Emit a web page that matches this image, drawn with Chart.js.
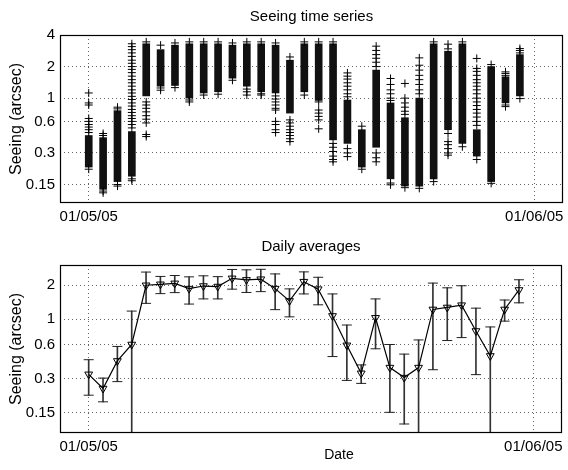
<!DOCTYPE html>
<html>
<head>
<meta charset="utf-8">
<script src="https://cdn.jsdelivr.net/npm/chart.js@4/dist/chart.umd.min.js"></script>
<style>
	html, body { margin: 0; padding: 0; background: #fff; }
	canvas { position: absolute; left: 0; }
	#series { top: 0; }
	#daily { top: 230px; }
</style>
</head>
<body>
<canvas id="series" width="568" height="230"></canvas>
<canvas id="daily" width="568" height="240"></canvas>
<script>
// nights, counted in days from 01/05/05
var nightDay = [ 0, 1, 2, 3, 4, 5, 6, 7, 8, 9, 10, 11, 12, 13, 14, 15, 16, 17, 18, 19, 20, 21, 22, 23, 24, 25, 26, 27, 28, 29, 30 ];

// dense part of each night's measurements (arcsec)
var coreLow  = [ 0.22, 0.135, 0.16, 0.18, 1.05, 1.3, 1.32, 1.0, 1.12, 1.15, 1.55, 1.3, 1.15, 1.12, 0.72, 1.15, 0.95, 0.4, 0.37, 0.22, 0.34, 0.17, 0.145, 0.145, 0.17, 0.5, 0.37, 0.28, 0.16, 0.9, 1.05 ];
var coreHigh = [ 0.44, 0.42, 0.76, 0.48, 3.3, 2.9, 3.2, 3.3, 3.3, 3.3, 3.2, 3.3, 3.3, 3.2, 2.3, 3.3, 3.3, 3.3, 0.96, 0.5, 1.85, 0.9, 0.65, 1.0, 3.3, 2.8, 3.3, 0.5, 2.0, 1.6, 2.6 ];

// sparser measurements around the dense part
var sparseSeeing = [
	[ 0.21, 0.47, 0.5, 0.53, 0.56, 0.6, 0.64, 0.86, 0.9, 1.12 ],
	[ 0.125, 0.13, 0.44, 0.46 ],
	[ 0.145, 0.15, 0.79, 0.82 ],
	[ 0.163, 0.17, 0.52, 0.56, 0.6, 0.64, 0.68, 0.73, 0.78, 0.84, 0.9, 0.97, 1.04, 1.12, 1.2, 1.3, 1.4, 1.5, 1.62, 1.75, 1.88, 2.0, 2.15, 2.3, 2.5, 2.7, 2.9, 3.1, 3.3 ],
	[ 3.44, 0.92, 0.86, 0.8, 0.74, 0.68, 0.63, 0.58, 0.45, 0.43 ],
	[ 1.19, 1.25, 3.2 ],
	[ 1.26, 3.36 ],
	[ 0.92, 0.96, 3.44 ],
	[ 1.07, 3.44 ],
	[ 1.09, 3.44 ],
	[ 1.48, 3.36 ],
	[ 1.07, 1.15, 1.22, 3.44 ],
	[ 1.07, 1.1, 3.44 ],
	[ 1.05, 0.98, 0.92, 0.86, 0.8, 0.77, 0.6, 0.56, 0.5, 0.47, 3.36 ],
	[ 2.47, 0.62, 0.58, 0.54, 0.5, 0.47, 0.44, 0.41, 0.385 ],
	[ 1.07, 3.44 ],
	[ 0.92, 0.77, 0.72, 0.67, 0.62, 0.51, 3.44 ],
	[ 0.37, 0.34, 0.31, 0.28, 0.26, 0.247, 3.44 ],
	[ 1.03, 1.1, 1.2, 1.3, 1.4, 1.52, 1.62, 1.74, 0.33, 0.3, 0.277 ],
	[ 0.21, 0.54 ],
	[ 2.0, 2.2, 2.4, 2.6, 2.85, 3.13, 0.3, 0.27, 0.247 ],
	[ 0.149, 0.155, 0.95, 1.0, 1.1, 1.2, 1.35, 1.54 ],
	[ 0.14, 0.7, 0.75, 0.82, 0.9, 1.0, 1.38 ],
	[ 0.138, 1.1, 1.2, 1.35, 1.5, 1.65, 1.85, 2.06, 2.42 ],
	[ 0.16, 3.44 ],
	[ 2.95, 3.27, 0.46, 0.385, 0.36, 0.33, 0.3, 0.286 ],
	[ 0.344, 3.44 ],
	[ 2.39, 1.92, 1.8, 1.65, 1.5, 1.4, 1.3, 1.2, 1.1, 1.0, 0.92, 0.85, 0.78, 0.72, 0.66, 0.6, 0.55, 0.26 ],
	[ 0.154, 2.09 ],
	[ 0.83, 0.86, 1.65, 1.72, 1.78 ],
	[ 0.99, 2.7, 2.85, 2.97 ]
];

// daily averages and their spread
var dailyMean = [ 0.328, 0.246, 0.43, 0.6, 1.99, 2.03, 2.07, 1.86, 1.96, 1.94, 2.29, 2.22, 2.25, 1.86, 1.45, 2.14, 1.84, 1.07, 0.59, 0.335, 1.03, 0.376, 0.307, 0.376, 1.22, 1.27, 1.33, 0.789, 0.476, 1.22, 1.81 ];
var dailyStd  = [ 0.113, 0.058, 0.147, 0.58, 0.61, 0.35, 0.355, 0.5, 0.45, 0.43, 0.45, 0.5, 0.5, 0.645, 0.4, 0.47, 0.5, 0.6, 0.3, 0.062, 0.48, 0.224, 0.187, 0.282, 0.86, 0.62, 0.64, 0.463, 0.38, 0.257, 0.415 ];

var seriesTicks = [ 0.15, 0.3, 0.6, 1, 2, 4 ];
var dailyTicks = [ 0.15, 0.3, 0.6, 1, 2 ];
var dateTickDays = [ 0, 31 ];
var dateTickLabels = [ '01/05/05', '01/06/05' ];

Chart.defaults.font.family = '"Liberation Sans", Arial, Helvetica, sans-serif';
Chart.defaults.color = '#000';

var boxPlugin = {
	id: 'box',
	afterDraw: function ( chart ) {
		var a = chart.chartArea, ctx = chart.ctx;
		ctx.save();
		ctx.strokeStyle = '#000';
		ctx.lineWidth = 1.2;
		ctx.strokeRect( Math.round( a.left ) + 0.5, Math.round( a.top ) + 0.5, Math.round( a.right - a.left ) - 1, Math.round( a.bottom - a.top ) - 1 );
		ctx.restore();
	}
};

// the "Date" label sits a little right of centre in the original
var dateLabelPlugin = {
	id: 'dateLabel',
	afterDraw: function ( chart ) {
		var a = chart.chartArea, ctx = chart.ctx;
		ctx.save();
		ctx.fillStyle = '#000';
		ctx.font = '14px "Liberation Sans", Arial, sans-serif';
		ctx.textAlign = 'center';
		ctx.textBaseline = 'middle';
		ctx.fillText( 'Date', ( a.left + a.right ) / 2 + 28, chart.height - 15 );
		ctx.restore();
	}
};

function xScale( axisHeight ) {
	return {
		type: 'linear',
		min: -2,
		max: 33,
		offset: false,
		afterBuildTicks: function ( scale ) {
			scale.ticks = dateTickDays.map( function ( d ) { return { value: d }; } );
		},
		afterFit: function ( scale ) {
			scale.height = axisHeight;
			scale.paddingLeft = 0;
			scale.paddingRight = 0;
		},
		ticks: {
			padding: 5,
			maxRotation: 0,
			font: { size: 15 },
			callback: function ( value ) {
				var i = dateTickDays.indexOf( value );
				return i < 0 ? '' : dateTickLabels[ i ];
			}
		},
		grid: { color: '#666', lineWidth: 1, drawTicks: false, offset: false },
		border: { display: false, dash: [ 1, 3 ] }
	};
}

// top axis only carries the panel title, centred over the plot
function titleScale( text ) {
	return {
		type: 'linear',
		position: 'top',
		min: -2,
		max: 33,
		afterFit: function ( scale ) {
			scale.height = 35;
			scale.paddingLeft = 0;
			scale.paddingRight = 0;
		},
		ticks: { display: false },
		grid: { display: false, drawTicks: false },
		border: { display: false },
		title: { display: true, text: text, font: { size: 15 }, padding: { top: 8, bottom: 0 } }
	};
}

function yScale( max, tickValues ) {
	return {
		type: 'logarithmic',
		min: 0.1,
		max: max,
		afterBuildTicks: function ( scale ) {
			scale.ticks = tickValues.map( function ( v ) { return { value: v }; } );
		},
		afterFit: function ( scale ) { scale.width = 60; },
		ticks: {
			padding: 5,
			font: { size: 15 },
			callback: function ( value ) { return String( value ); }
		},
		grid: { color: '#666', lineWidth: 1, drawTicks: false },
		border: { display: false, dash: [ 1, 3 ] },
		title: { display: true, text: 'Seeing (arcsec)', font: { size: 16 }, padding: { top: 7, bottom: 0 } }
	};
}

// top panel: every measurement
var coreData = nightDay.map( function ( d, i ) { return { x: d, y: [ coreLow[ i ], coreHigh[ i ] ] }; } );
var sparseData = [];
nightDay.forEach( function ( d, i ) {
	sparseSeeing[ i ].forEach( function ( v ) { sparseData.push( { x: d, y: v } ); } );
} );

new Chart( document.getElementById( 'series' ), {
	type: 'bar',
	data: {
		datasets: [ {
			type: 'bar',
			data: coreData,
			backgroundColor: '#111',
			borderWidth: 0,
			barThickness: 7,
			order: 2
		}, {
			type: 'scatter',
			data: sparseData,
			pointStyle: 'cross',
			pointRadius: 4,
			borderColor: '#000',
			borderWidth: 1,
			order: 1
		} ]
	},
	options: {
		responsive: false,
		animation: false,
		events: [],
		layout: { padding: 0 },
		plugins: { legend: { display: false }, tooltip: { enabled: false }, title: { display: false } },
		scales: {
			x: xScale( 27 ),
			top: titleScale( 'Seeing time series' ),
			y: yScale( 4, seriesTicks )
		}
	},
	plugins: [ boxPlugin ]
} );

// bottom panel: daily averages with error bars
var meanData = nightDay.map( function ( d, i ) { return { x: d, y: dailyMean[ i ] }; } );
var errData = nightDay.map( function ( d, i ) { return { x: d, y: [ dailyMean[ i ] - dailyStd[ i ], dailyMean[ i ] + dailyStd[ i ] ] }; } );
var capData = [];
nightDay.forEach( function ( d, i ) {
	capData.push( { x: d, y: dailyMean[ i ] + dailyStd[ i ] } );
	capData.push( { x: d, y: dailyMean[ i ] - dailyStd[ i ] } );
} );

new Chart( document.getElementById( 'daily' ), {
	type: 'bar',
	data: {
		datasets: [ {
			type: 'line',
			data: meanData,
			borderColor: '#000',
			borderWidth: 1.2,
			pointStyle: 'triangle',
			pointRotation: 180,
			pointRadius: 4.5,
			pointBackgroundColor: 'rgba(0,0,0,0)',
			pointBorderColor: '#000',
			pointBorderWidth: 1,
			tension: 0,
			order: 0
		}, {
			type: 'scatter',
			data: capData,
			pointStyle: 'line',
			pointRadius: 5,
			borderColor: '#222',
			borderWidth: 1,
			order: 1
		}, {
			type: 'bar',
			data: errData,
			backgroundColor: '#333',
			borderWidth: 0,
			barThickness: 1,
			order: 2
		} ]
	},
	options: {
		responsive: false,
		animation: false,
		events: [],
		layout: { padding: 0 },
		plugins: { legend: { display: false }, tooltip: { enabled: false }, title: { display: false } },
		scales: {
			x: xScale( 37 ),
			top: titleScale( 'Daily averages' ),
			y: yScale( 3, dailyTicks )
		}
	},
	plugins: [ boxPlugin, dateLabelPlugin ]
} );
</script>
</body>
</html>
